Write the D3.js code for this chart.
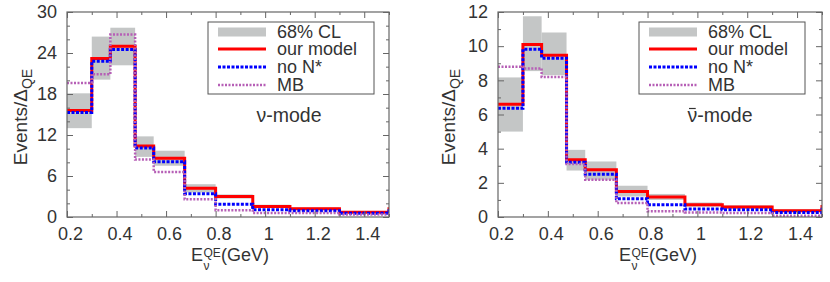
<!DOCTYPE html>
<html>
<head>
<meta charset="utf-8">
<script src="https://cdn.jsdelivr.net/npm/d3@7"></script>
<style>
    body { margin: 0; background: #fff; }
    svg { font-family: "Liberation Sans", Arial, Helvetica, sans-serif; }
</style>
</head>
<body>
<svg id="chart" width="830" height="282"></svg>
<script>
// bin edges (GeV), last bin lies beyond the plotted range
const binEdges = [0.2, 0.3, 0.375, 0.475, 0.55, 0.675, 0.8, 0.95, 1.1, 1.3, 1.5, 2.0];

// neutrino mode
const nuModel   = [15.6, 23.2, 25.0, 10.4, 8.6, 4.2, 3.0, 1.55, 1.2, 0.7, 1.2];
const nuNoNstar = [15.3, 22.8, 24.5, 10.1, 8.1, 3.4, 1.85, 1.07, 0.9, 0.55, 0.9];
const nuMB      = [19.6, 20.9, 26.7, 8.4, 6.6, 2.6, 1.0, 0.6, 0.6, 0.35, 0.5];
const nuClLow   = [13.0, 20.1, 22.2, 8.8, 7.5, 3.6, 2.7, 1.3, 1.0, 0.55];
const nuClHigh  = [18.1, 26.4, 27.7, 11.8, 9.7, 4.8, 3.3, 1.8, 1.4, 0.85];

// antineutrino mode
const nubarModel   = [6.6, 10.1, 9.47, 3.35, 2.76, 1.5, 1.17, 0.72, 0.58, 0.37, 0.62];
const nubarNoNstar = [6.36, 9.82, 9.3, 3.2, 2.5, 1.07, 0.72, 0.47, 0.43, 0.27, 0.45];
const nubarMB      = [8.8, 8.7, 8.2, 3.1, 2.18, 0.82, 0.33, 0.27, 0.23, 0.08, 0.2];
const nubarClLow   = [5.0, 8.54, 8.3, 2.72, 2.18, 1.2, 1.0, 0.6, 0.48, 0.3];
const nubarClHigh  = [8.17, 11.75, 10.8, 3.93, 3.25, 1.83, 1.35, 0.85, 0.68, 0.45];

// ticks
const xTicks = [0.2, 0.4, 0.6, 0.8, 1, 1.2, 1.4];
const xMinorTicks = [0.3, 0.5, 0.7, 0.9, 1.1, 1.3, 1.5];
const nuYTicks = [0, 6, 12, 18, 24, 30];
const nuYMinorTicks = [2, 4, 8, 10, 14, 16, 20, 22, 26, 28];
const nubarYTicks = [0, 2, 4, 6, 8, 10, 12];
const nubarYMinorTicks = [1, 3, 5, 7, 9, 11];

const legendLabels = ["68% CL", "our model", "no N*", "MB"];

const panels = [
    {
        left: 67, right: 389, yMax: 30, yTicks: nuYTicks, yMinor: nuYMinorTicks,
        model: nuModel, noN: nuNoNstar, mb: nuMB, clLo: nuClLow, clHi: nuClHigh,
        bar: false, yLabelX: 27, xLabelOffset: 124
    },
    {
        left: 498, right: 822, yMax: 12, yTicks: nubarYTicks, yMinor: nubarYMinorTicks,
        model: nubarModel, noN: nubarNoNstar, mb: nubarMB, clLo: nubarClLow, clHi: nubarClHigh,
        bar: true, yLabelX: 455, xLabelOffset: 121
    }
];

const plotTop = 12, plotBottom = 217;
const svg = d3.select("#chart");
const textColor = "#333";
const axisColor = "#666";
const bandColor = "#c4c6c6";

panels.forEach(function (p, pi) {
    const x = d3.scaleLinear().domain([0.2, 1.5]).range([p.left, p.right]);
    const y = d3.scaleLinear().domain([0, p.yMax]).range([plotBottom, plotTop]);

    const clipId = "clip" + pi;
    svg.append("clipPath").attr("id", clipId)
        .append("rect")
        .attr("x", p.left).attr("y", plotTop)
        .attr("width", p.right - p.left).attr("height", plotBottom - plotTop);

    const g = svg.append("g");
    const plot = g.append("g").attr("clip-path", `url(#${clipId})`);

    // 68% CL band
    plot.selectAll("rect.band")
        .data(p.clLo)
        .enter()
        .append("rect")
        .attr("class", "band")
        .attr("x", (d, i) => x(binEdges[i]))
        .attr("width", (d, i) => x(binEdges[i + 1]) - x(binEdges[i]))
        .attr("y", (d, i) => y(p.clHi[i]))
        .attr("height", (d, i) => y(d) - y(p.clHi[i]))
        .style("fill", bandColor);

    const step = d3.line()
        .x(d => x(d[0]))
        .y(d => y(d[1]))
        .curve(d3.curveStepAfter);
    function stepPoints(vals) {
        const pts = vals.map((v, i) => [binEdges[i], v]);
        pts.push([binEdges[vals.length], vals[vals.length - 1]]);
        return pts;
    }

    plot.append("path")
        .attr("d", step(stepPoints(p.model)))
        .style("fill", "none").style("stroke", "#ff0000").style("stroke-width", 3);
    plot.append("path")
        .attr("d", step(stepPoints(p.noN)))
        .style("fill", "none").style("stroke", "#0000ff").style("stroke-width", 3)
        .style("stroke-dasharray", "3,1.5");
    plot.append("path")
        .attr("d", step(stepPoints(p.mb)))
        .style("fill", "none").style("stroke", "#b65fb6").style("stroke-width", 2.5)
        .style("stroke-dasharray", "2,1.5");

    // axes: ticks inward on all four sides
    function style(ax) {
        ax.select(".domain").remove();
        ax.selectAll("line").style("stroke", axisColor);
        ax.selectAll("text").style("fill", textColor).style("font-size", "18px");
    }
    const xb = g.append("g").attr("transform", `translate(0, ${plotBottom})`)
        .call(d3.axisBottom(x).tickValues(xTicks).tickSize(-6).tickPadding(10).tickFormat(d3.format("~g")));
    style(xb);
    xb.selectAll("text").attr("dx", 3);
    style(g.append("g").attr("transform", `translate(0, ${plotBottom})`)
        .call(d3.axisBottom(x).tickValues(xMinorTicks).tickSize(-3).tickFormat("")));
    style(g.append("g").attr("transform", `translate(0, ${plotTop})`)
        .call(d3.axisTop(x).tickValues(xTicks).tickSize(-6).tickFormat("")));
    style(g.append("g").attr("transform", `translate(0, ${plotTop})`)
        .call(d3.axisTop(x).tickValues(xMinorTicks).tickSize(-3).tickFormat("")));

    const yl = g.append("g").attr("transform", `translate(${p.left}, 0)`)
        .call(d3.axisLeft(y).tickValues(p.yTicks).tickSize(-6).tickPadding(10));
    style(yl);
    style(g.append("g").attr("transform", `translate(${p.left}, 0)`)
        .call(d3.axisLeft(y).tickValues(p.yMinor).tickSize(-3).tickFormat("")));
    style(g.append("g").attr("transform", `translate(${p.right}, 0)`)
        .call(d3.axisRight(y).tickValues(p.yTicks).tickSize(-6).tickFormat("")));
    style(g.append("g").attr("transform", `translate(${p.right}, 0)`)
        .call(d3.axisRight(y).tickValues(p.yMinor).tickSize(-3).tickFormat("")));

    g.append("rect")
        .attr("x", p.left).attr("y", plotTop)
        .attr("width", p.right - p.left).attr("height", plotBottom - plotTop)
        .style("fill", "none").style("stroke", axisColor).style("stroke-width", 1.2);

    // legend
    const lg = g.append("g").attr("transform", `translate(${p.left + 141}, ${plotTop + 10})`);
    lg.append("rect")
        .attr("width", 166).attr("height", 72)
        .style("fill", "white").style("stroke", "#555").style("stroke-width", 1);
    const rowY = [10, 27, 45, 63];
    lg.append("rect").attr("x", 10).attr("y", rowY[0] - 4.5).attr("width", 48).attr("height", 9)
        .style("fill", bandColor);
    lg.append("line").attr("x1", 10).attr("x2", 58).attr("y1", rowY[1]).attr("y2", rowY[1])
        .style("stroke", "#ff0000").style("stroke-width", 3);
    lg.append("line").attr("x1", 10).attr("x2", 58).attr("y1", rowY[2]).attr("y2", rowY[2])
        .style("stroke", "#0000ff").style("stroke-width", 3).style("stroke-dasharray", "3,1.5");
    lg.append("line").attr("x1", 10).attr("x2", 58).attr("y1", rowY[3]).attr("y2", rowY[3])
        .style("stroke", "#b65fb6").style("stroke-width", 2.5).style("stroke-dasharray", "2,1.5");
    lg.selectAll("text.leg")
        .data(legendLabels)
        .enter()
        .append("text")
        .attr("class", "leg")
        .attr("x", 69)
        .attr("y", (d, i) => rowY[i])
        .attr("dy", "0.35em")
        .style("font-size", "18px")
        .style("fill", textColor)
        .text(d => d);

    // mode label (bar over nu for the antineutrino panel)
    const modeText = g.append("text")
        .attr("x", p.left + 222).attr("y", 122)
        .style("text-anchor", "middle")
        .style("font-size", "19.5px")
        .style("fill", textColor)
        .text("\u03BD-mode");
    if (p.bar) {
        const ext = modeText.node().getExtentOfChar(0);
        g.append("line")
            .attr("x1", ext.x + 1.5).attr("x2", ext.x + ext.width - 1.5)
            .attr("y1", 108.5).attr("y2", 108.5)
            .style("stroke", textColor).style("stroke-width", 1.2);
    }

    // y label
    const ylab = g.append("text")
        .attr("transform", `translate(${p.yLabelX}, 117) rotate(-90)`)
        .style("text-anchor", "middle")
        .style("font-size", "19px")
        .style("fill", textColor);
    ylab.append("tspan").text("Events/\u0394");
    ylab.append("tspan").attr("dy", 5).style("font-size", "14px").text("QE");

    // x label: E with nu subscript and QE superscript
    const x0 = p.left + p.xLabelOffset;
    const xlab = g.append("text")
        .attr("y", 261)
        .style("font-size", "18px")
        .style("fill", textColor);
    xlab.append("tspan").attr("x", x0).attr("y", 261).text("E");
    xlab.append("tspan").attr("x", x0 + 12.5).attr("y", 270).style("font-size", "12px").text("\u03BD");
    xlab.append("tspan").attr("x", x0 + 12.5).attr("y", 256.5).style("font-size", "12px").text("QE");
    xlab.append("tspan").attr("x", x0 + 30).attr("y", 261).text("(GeV)");
});
</script>
</body>
</html>
